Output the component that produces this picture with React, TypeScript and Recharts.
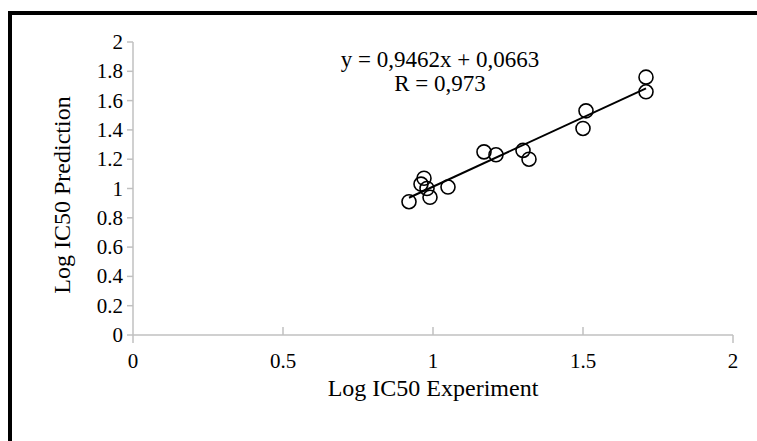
import React from "react";
import { ScatterChart, Scatter, XAxis, YAxis } from "recharts";

// measured points (Log IC50 experiment vs prediction)
const expValues = [0.92, 0.99, 0.97, 0.96, 0.98, 1.05, 1.17, 1.21, 1.3, 1.32, 1.51, 1.5, 1.71, 1.71];
const predValues = [0.91, 0.94, 1.07, 1.03, 1.0, 1.01, 1.25, 1.23, 1.26, 1.2, 1.53, 1.41, 1.76, 1.66];

// linear trend line endpoints (y = 0,9462x + 0,0663)
const trendX = [0.92, 1.71];
const trendY = [0.937, 1.684];

const xTicks = [0, 0.5, 1, 1.5, 2];
const yTicks = [0, 0.2, 0.4, 0.6, 0.8, 1, 1.2, 1.4, 1.6, 1.8, 2];

const points = expValues.map((x, i) => ({ x, y: predValues[i] }));
const trend = trendX.map((x, i) => ({ x, y: trendY[i] }));

const FONT = "Liberation Serif, Times New Roman, serif";
const AXIS = "#c0c0c0";

const Ring = (props: any) => (
  <circle cx={props.cx} cy={props.cy} r={7} fill="none" stroke="#000" strokeWidth={1.6} />
);

const XTick = (props: any) => {
  const { x, y, payload } = props;
  const v = payload.value;
  const down = v === 0 || v === 2;
  return (
    <g>
      <line x1={x} x2={x} y1={y} y2={down ? y + 8 : y - 8} stroke={AXIS} strokeWidth={1.5} />
      <text
        x={x}
        y={y + 33}
        textAnchor="middle"
        style={{ fontSize: 21, fontFamily: FONT, fill: "#000" }}
      >
        {String(v)}
      </text>
    </g>
  );
};

const YTick = (props: any) => {
  const { x, y, payload } = props;
  return (
    <text
      x={x}
      y={y + 7}
      textAnchor="end"
      style={{ fontSize: 21, fontFamily: FONT, fill: "#000" }}
    >
      {String(payload.value)}
    </text>
  );
};

export default function App() {
  return (
    <div
      style={{
        position: "absolute",
        left: 0,
        top: 0,
        width: 757,
        height: 441,
        overflow: "hidden",
        background: "#fff",
        fontFamily: FONT,
      }}
    >
      <div
        style={{
          position: "absolute",
          left: 8,
          top: 11,
          width: 800,
          height: 500,
          border: "4px solid #000",
        }}
      />
      <div style={{ position: "absolute", left: 0, top: 0 }}>
        <ScatterChart
          width={757}
          height={441}
          margin={{ top: 42, right: 24, bottom: 46, left: 63 }}
        >
          <XAxis
            type="number"
            dataKey="x"
            domain={[0, 2]}
            ticks={xTicks}
            height={60}
            axisLine={{ stroke: AXIS, strokeWidth: 1.5 }}
            tickLine={false}
            tickSize={0}
            tickMargin={0}
            tick={<XTick />}
            interval={0}
          />
          <YAxis
            type="number"
            dataKey="y"
            domain={[0, 2]}
            ticks={yTicks}
            width={70}
            interval={0}
            axisLine={{ stroke: AXIS, strokeWidth: 1.5 }}
            tickLine={{ stroke: AXIS, strokeWidth: 1.5 }}
            tickSize={6}
            tickMargin={4}
            tick={<YTick />}
          />
          <Scatter data={points} shape={<Ring />} isAnimationActive={false} />
          <Scatter
            data={trend}
            line={{ stroke: "#000", strokeWidth: 2 }}
            shape={() => <g />}
            isAnimationActive={false}
          />
        </ScatterChart>
      </div>
      <div
        style={{
          position: "absolute",
          left: 440,
          top: 48,
          transform: "translateX(-50%)",
          textAlign: "center",
          fontSize: 23,
          lineHeight: "24px",
          whiteSpace: "nowrap",
        }}
      >
        y = 0,9462x + 0,0663
        <br />R = 0,973
      </div>
      <div
        style={{
          position: "absolute",
          left: 433,
          top: 375,
          transform: "translateX(-50%)",
          fontSize: 24,
          whiteSpace: "nowrap",
        }}
      >
        Log IC50 Experiment
      </div>
      <div
        style={{
          position: "absolute",
          left: 62,
          top: 195,
          transform: "translate(-50%, -50%) rotate(-90deg)",
          fontSize: 24,
          whiteSpace: "nowrap",
        }}
      >
        Log IC50 Prediction
      </div>
    </div>
  );
}
